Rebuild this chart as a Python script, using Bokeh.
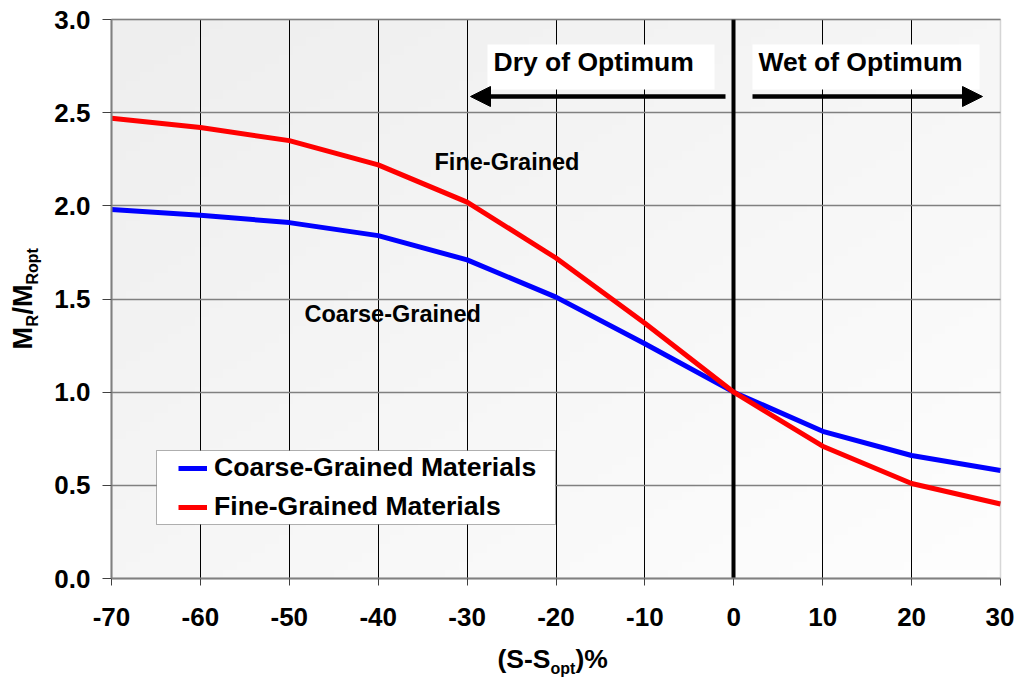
import numpy as np
from bokeh.plotting import figure
from bokeh.models import (Range1d, FixedTicker, NumeralTickFormatter, BoxAnnotation, Grid,
                          Label, Arrow, NormalHead, Legend, LegendItem)
from bokeh.embed import file_html
from bokeh.resources import INLINE

# Degree of saturation relative to optimum, (S - S_opt) %
saturation = [-70, -60, -50, -40, -30, -20, -10, 0, 10, 20, 30]
# Resilient modulus ratio M_R / M_Ropt
coarse_grained = [1.98, 1.95, 1.91, 1.84, 1.71, 1.51, 1.26, 1.00, 0.79, 0.66, 0.58]
fine_grained = [2.47, 2.42, 2.35, 2.22, 2.02, 1.72, 1.37, 1.00, 0.71, 0.51, 0.40]

series_names = ["Coarse-Grained Materials", "Fine-Grained Materials"]
x_ticks = [-70, -60, -50, -40, -30, -20, -10, 0, 10, 20, 30]
y_ticks = [0.0, 0.5, 1.0, 1.5, 2.0, 2.5, 3.0]

FONT = "Liberation Sans"
W, H = 1014, 682
# plotting area (canvas pixels) and its data extent
LEFT, RIGHT, TOP, BOTTOM = 111, 1000, 19, 578
X0, X1, Y0, Y1 = -70, 30, 0, 3
BASE_FIX = 0.37  # label baseline correction, in em


def dx(px):
    """canvas x (px) -> data x"""
    return X0 + (px - LEFT) * (X1 - X0) / (RIGHT - LEFT)


def dy(py):
    """canvas y (px) -> data y"""
    return Y0 + (BOTTOM - py) * (Y1 - Y0) / (BOTTOM - TOP)


def text_label(txt, px, py, size, angle=0.0):
    """bold text whose alphabetic baseline sits at canvas (px, py)"""
    if angle:
        px = px - BASE_FIX * size
    else:
        py = py - BASE_FIX * size
    return Label(x=dx(px), y=dy(py), text=txt, text_font=FONT, text_font_style="bold",
                 text_font_size=f"{size}px", text_color="black", text_baseline="alphabetic",
                 angle=angle)


# the frame spans the whole canvas; axes sit at fixed data locations
p = figure(width=W, height=H, x_range=Range1d(dx(0), dx(W)), y_range=Range1d(dy(H), dy(0)),
           output_backend="svg", toolbar_location=None, title=None,
           min_border_left=0, min_border_right=0, min_border_top=0, min_border_bottom=0)
p.border_fill_color = "white"
p.background_fill_color = "white"
p.outline_line_color = None

# soft diagonal shading of the plotting area
n = 64
u = np.linspace(0, 1, n)[None, :]
v = np.linspace(0, 1, n)[:, None]
t = (u + (1 - v)) / 2.0
shade = (238 + 16 * t).astype(np.uint32)
img = (255 << 24) | (shade << 16) | (shade << 8) | shade
p.image_rgba(image=[img.astype(np.uint32)], x=X0, y=Y0, dw=X1 - X0, dh=Y1 - Y0, level="image")

# axes
p.xaxis.fixed_location = Y0
p.yaxis.fixed_location = X0
p.xaxis.bounds = (X0, X1)
p.yaxis.bounds = (Y0, Y1)
for ax in (p.xaxis[0], p.yaxis[0]):
    ax.axis_line_color = "#808080"
    ax.axis_line_width = 2
    ax.major_tick_line_color = "#404040"
    ax.major_tick_line_width = 1
    ax.minor_tick_line_color = None
    ax.major_tick_in = 0
    ax.major_label_text_font = FONT
    ax.major_label_text_font_style = "bold"
    ax.major_label_text_font_size = "26px"
    ax.major_label_text_color = "black"

p.xaxis.ticker = FixedTicker(ticks=x_ticks)
p.yaxis.ticker = FixedTicker(ticks=y_ticks)
p.xaxis.formatter = NumeralTickFormatter(format="0")
p.yaxis.formatter = NumeralTickFormatter(format="0.0")
p.xaxis.major_tick_out = 7
p.yaxis.major_tick_out = 9
p.xaxis.major_label_standoff = 22
p.yaxis.major_label_standoff = 12

# grid lines limited to the plotting area
p.xgrid.ticker = FixedTicker(ticks=x_ticks[1:-1])
p.xgrid.cross_bounds = (Y0, Y1)
p.xgrid.grid_line_color = "black"
p.xgrid.grid_line_width = 1
p.ygrid.ticker = FixedTicker(ticks=y_ticks[1:])
p.ygrid.cross_bounds = (X0, X1)
p.ygrid.grid_line_color = "#808080"
p.ygrid.grid_line_width = 1.5

# optimum moisture line at (S - S_opt) = 0
p.add_layout(Grid(dimension=0, ticker=FixedTicker(ticks=[0]), cross_bounds=(Y0, Y1),
                  grid_line_color="black", grid_line_width=4))

# data
r_coarse = p.line(saturation, coarse_grained, line_color="#0000ff", line_width=5)
r_fine = p.line(saturation, fine_grained, line_color="#ff0000", line_width=5)

# plotting area border
p.add_layout(BoxAnnotation(left=X0, right=X1, bottom=Y0, top=Y1, fill_alpha=0,
                           line_color="#808080", line_width=1.5))

# dry / wet side captions with arrows
for l, r in ((487, 714), (752, 979)):
    p.add_layout(BoxAnnotation(left=dx(l), right=dx(r), top=dy(44), bottom=dy(89),
                               fill_color="white", fill_alpha=1, line_alpha=0))
for txt, px in (("Dry of Optimum", 493), ("Wet of Optimum", 758)):
    p.add_layout(text_label(txt, px, 71, 26.5))
for xs, xe in ((725, 470), (752, 982)):
    p.add_layout(Arrow(x_start=dx(xs), y_start=dy(96), x_end=dx(xe), y_end=dy(96),
                       line_color="black", line_width=4.5,
                       end=NormalHead(size=20, fill_color="black", line_color="black", line_width=1)))

# curve captions
p.add_layout(text_label("Fine-Grained", 434, 170, 23.5))
p.add_layout(text_label("Coarse-Grained", 304, 322, 23.5))

# legend frame and legend
p.add_layout(BoxAnnotation(left=dx(156), right=dx(555), top=dy(450), bottom=dy(524),
                           fill_color="white", fill_alpha=1, line_color="black", line_width=1))
legend = Legend(items=[LegendItem(label=series_names[0], renderers=[r_coarse]),
                       LegendItem(label=series_names[1], renderers=[r_fine])],
                location=(174, H - 526), padding=4, spacing=8, margin=0,
                glyph_width=29, glyph_height=30, label_height=30, label_standoff=7,
                label_text_font=FONT, label_text_font_style="bold", label_text_font_size="26.6px",
                label_text_color="black", border_line_alpha=0, background_fill_alpha=0)
p.add_layout(legend)

# x-axis title: (S-S_opt)%
for txt, size, px, py in [("(S-S", 26.5, 497, 668), ("opt", 16, 550, 674), (")%", 26.5, 575, 668)]:
    p.add_layout(text_label(txt, px, py, size))

# y-axis title: M_R/M_Ropt, reading upward
for txt, size, px, py in [("M", 27, 32, 349), ("R", 16, 38, 326), ("/M", 27, 32, 314), ("Ropt", 16, 38, 284)]:
    p.add_layout(text_label(txt, px, py, size, angle=np.pi / 2))

open("out.html", "w").write(file_html(p, INLINE))
